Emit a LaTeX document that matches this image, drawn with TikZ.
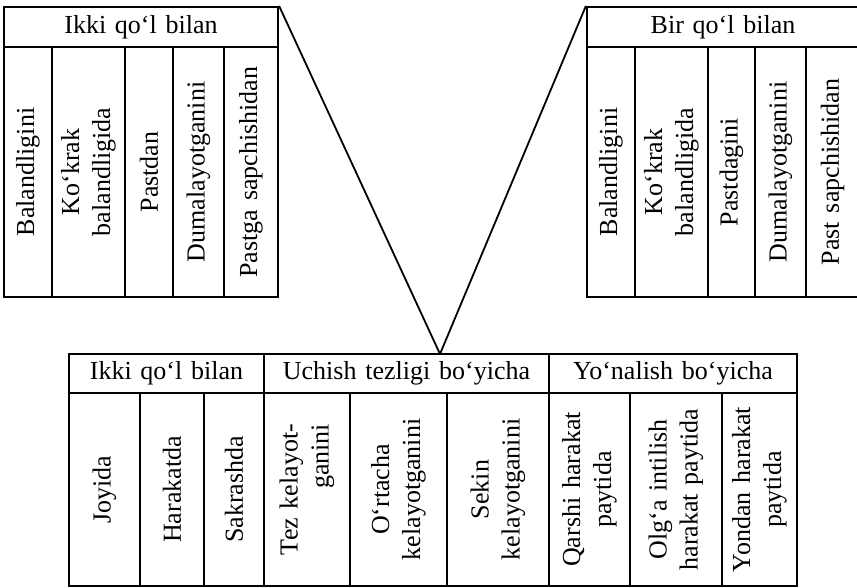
\documentclass[tikz,border=0pt]{standalone}
\usepackage{fontspec}
\setmainfont[WordSpace=1.35]{Liberation Serif}
\usepackage{tikz}

\begin{document}
\begin{tikzpicture}[x=1pt,y=-1pt,line width=2.2pt,
    head node/.style={rectangle,draw,inner sep=0pt,minimum height=40pt,font=\fontsize{26}{31}\selectfont},
    cell node/.style={rectangle,draw,rotate=90,inner sep=0pt,minimum width=250pt,align=center,font=\fontsize{26}{31}\selectfont}]
        \useasboundingbox (0,0) rectangle (857,587);
        % chap jadval
        \node[head node,minimum width=274pt] (h1) at (141,27) {Ikki qo‘l bilan};
        \node[cell node,minimum height=48pt] (a1) at (28,172) {Balandligini};
        \node[cell node,minimum height=73pt] (a2) at (88.5,172) {Ko‘krak\\balandligida};
        \node[cell node,minimum height=48pt] (a3) at (149,172) {Pastdan};
        \node[cell node,minimum height=51pt] (a4) at (198.5,172) {Dumalayotganini};
        \node[cell node,minimum height=54pt] (a5) at (251,172) {Pastga sapchishidan};
        % o'ng jadval
        \node[head node,minimum width=272pt] (h2) at (723,27) {Bir qo‘l bilan};
        \node[cell node,minimum height=48pt] (b1) at (611,172) {Balandligini};
        \node[cell node,minimum height=73pt] (b2) at (671.5,172) {Ko‘krak\\balandligida};
        \node[cell node,minimum height=47pt] (b3) at (731.5,172) {Pastdagini};
        \node[cell node,minimum height=51pt] (b4) at (780.5,172) {Dumalayotganini};
        \node[cell node,minimum height=53pt] (b5) at (832.5,172) {Past sapchishidan};
        % pastki jadval
        \node[head node,minimum height=39pt,minimum width=195pt] (h3) at (166.5,373.5) {Ikki qo‘l bilan};
        \node[head node,minimum height=39pt,minimum width=285pt] (h4) at (406.5,373.5) {Uchish tezligi bo‘yicha};
        \node[head node,minimum height=39pt,minimum width=248pt] (h5) at (673,373.5) {Yo‘nalish bo‘yicha};
        \node[cell node,minimum width=193pt,minimum height=71pt] (c1) at (104.5,489.5) {Joyida};
        \node[cell node,minimum width=193pt,minimum height=64pt] (c2) at (172,489.5) {Harakatda};
        \node[cell node,minimum width=193pt,minimum height=60pt] (c3) at (234,489.5) {Sakrashda};
        \node[cell node,minimum width=193pt,minimum height=86pt,align=right] (c4) at (307,489.5) {Tez kelayot-\\ganini};
        \node[cell node,minimum width=193pt,minimum height=97pt] (c5) at (398.5,489.5) {O‘rtacha\\kelayotganini};
        \node[cell node,minimum width=193pt,minimum height=102pt] (c6) at (498,489.5) {Sekin\\kelayotganini};
        \node[cell node,minimum width=193pt,minimum height=81pt] (c7) at (589.5,489.5) {Qarshi harakat\\paytida};
        \node[cell node,minimum width=193pt,minimum height=92pt] (c8) at (676,489.5) {Olg‘a intilish\\harakat paytida};
        \node[cell node,minimum width=193pt,minimum height=75pt,line width=2.8pt] (c9) at (759.5,489.5) {Yondan harakat\\paytida};
        \coordinate (apex) at (440,354);
        \path[line width=1.8pt]
          (h1.north east) edge (apex)
          (apex) edge (h2.north west);
      \end{tikzpicture}
\end{document}
